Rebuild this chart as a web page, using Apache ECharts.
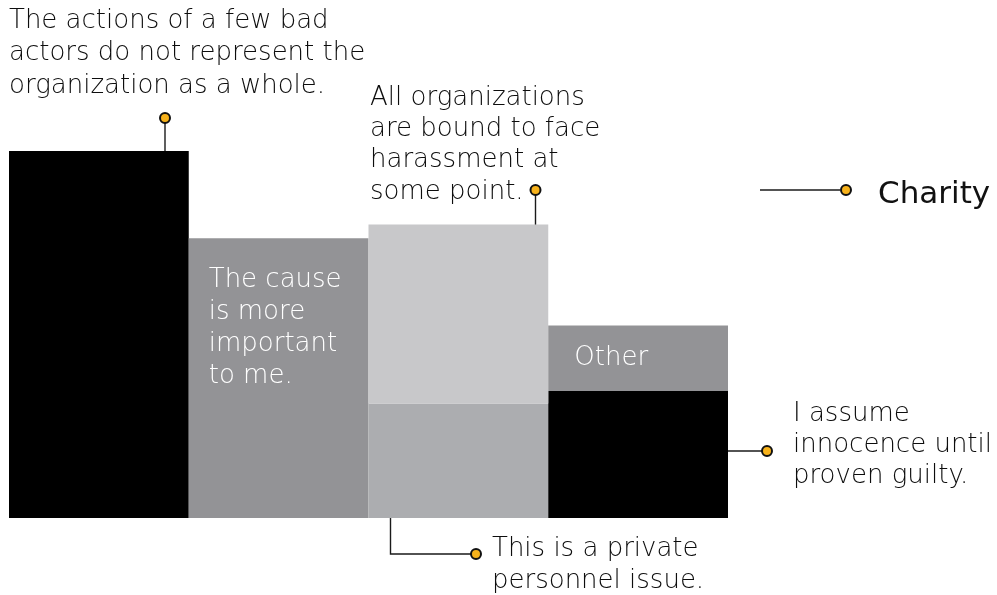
<!DOCTYPE html>
<html>
<head>
<meta charset="utf-8">
<script src="https://cdn.jsdelivr.net/npm/echarts@6/dist/echarts.min.js"></script>
<style>html,body{margin:0;padding:0;background:#fff}#c{width:997px;height:595px}</style>
</head>
<body>
<div id="c"></div>
<script>
const categories = ['Bad actors', 'Cause', 'Organizations', 'Other'];
const lowerValues = [32.4, 24.7, 10.1, 11.2];
const upperValues = [null, null, 15.8, 5.8];
const lowerColors = ['#000000', '#939396', '#acadb0', '#000000'];
const upperColors = ['#c8c8ca', '#c8c8ca', '#c8c8ca', '#939396'];
const yMax = 40;

const FONT = '"DejaVu Sans", sans-serif';
const TXT = '#0d0d0d';
const DOT = '#f7b21b';
const FS = 26;
const W = '300';

const chart = echarts.init(document.getElementById('c'), null, {renderer: 'canvas'});

const option = {
  animation: false,
  grid: {left: 9, right: 269, top: 64.8, bottom: 77},
  xAxis: {type: 'category', data: categories, show: false},
  yAxis: {type: 'value', min: 0, max: yMax, show: false},
  series: [
    {
      type: 'bar', stack: 's', barWidth: '100%', barCategoryGap: 0,
      data: lowerValues.map((v, i) => ({
        value: v,
        itemStyle: {color: lowerColors[i]},
        label: i === 1 ? {
          show: true, position: 'insideTopLeft', distance: 0, offset: [20, 26],
          formatter: 'The cause\nis more\nimportant\nto me.',
          color: '#ffffff', fontSize: FS, fontWeight: W, lineHeight: 32, fontFamily: FONT
        } : {show: false}
      }))
    },
    {
      type: 'bar', stack: 's', barWidth: '100%', barCategoryGap: 0,
      data: upperValues.map((v, i) => ({
        value: v == null ? '-' : v,
        itemStyle: {color: upperColors[i]},
        label: i === 3 ? {
          show: true, position: 'insideLeft', offset: [21, 0],
          formatter: 'Other', color: '#ffffff', fontSize: FS, fontWeight: W, fontFamily: FONT
        } : {show: false}
      }))
    }
  ]
};
chart.setOption(option);

function px(i, v) { return chart.convertToPixel({gridIndex: 0}, [i, v]); }
const band = chart.convertToPixel({gridIndex: 0}, [1, 0])[0] - chart.convertToPixel({gridIndex: 0}, [0, 0])[0];
function leftEdge(i) { return px(i, 0)[0] - band / 2; }

function textLines(x, base0, lines, opts) {
  opts = opts || {};
  const size = opts.size || FS;
  return lines.map((t, k) => ({
    type: 'text', x: x, y: base0 + k * (opts.lh || 32) - 0.24 * size, silent: true,
    style: {text: t, fill: opts.fill || TXT, font: (opts.weight || W) + ' ' + size + 'px ' + FONT, verticalAlign: 'middle', align: 'left'}
  }));
}
function line(pts) {
  return {type: 'polyline', shape: {points: pts}, style: {stroke: '#1a1a1a', lineWidth: 1.4, fill: null}, silent: true};
}
function dot(x, y) {
  return {type: 'circle', shape: {cx: x, cy: y, r: 5}, style: {fill: DOT, stroke: '#111', lineWidth: 2}, silent: true, z: 10};
}

const top1 = px(0, lowerValues[0])[1];
const top3 = px(2, lowerValues[2] + upperValues[2])[1];
const right4 = leftEdge(3) + band;
const x1 = leftEdge(0) + 156;
const x3 = leftEdge(2) + 167;
const x3b = leftEdge(2) + 22;

const g = [];
g.push(...textLines(9, 27, ['The actions of a few bad', 'actors do not represent the', 'organization as a whole.'], {lh: 32.5}));
g.push(line([[x1, 118], [x1, top1]]), dot(x1, 118));
g.push(...textLines(370, 104, ['All organizations', 'are bound to face', 'harassment at', 'some point.'], {lh: 31.4}));
g.push(line([[x3, 190], [x3, top3 + 50]]), dot(x3, 190));
g.push(line([[760, 190], [840, 190]]), dot(846, 190));
g.push(...textLines(878, 202, ['Charity'], {size: 31, fill: '#111', weight: 'normal'}));
g.push(line([[right4, 451], [762, 451]]), dot(767, 451));
g.push(...textLines(793, 420, ['I assume', 'innocence until', 'proven guilty.'], {lh: 31}));
g.push(line([[x3b, 505], [x3b, 554], [471, 554]]), dot(476, 554));
g.push(...textLines(492, 555, ['This is a private', 'personnel issue.'], {lh: 32}));

chart.setOption({graphic: {elements: g}});
</script>
</body>
</html>
